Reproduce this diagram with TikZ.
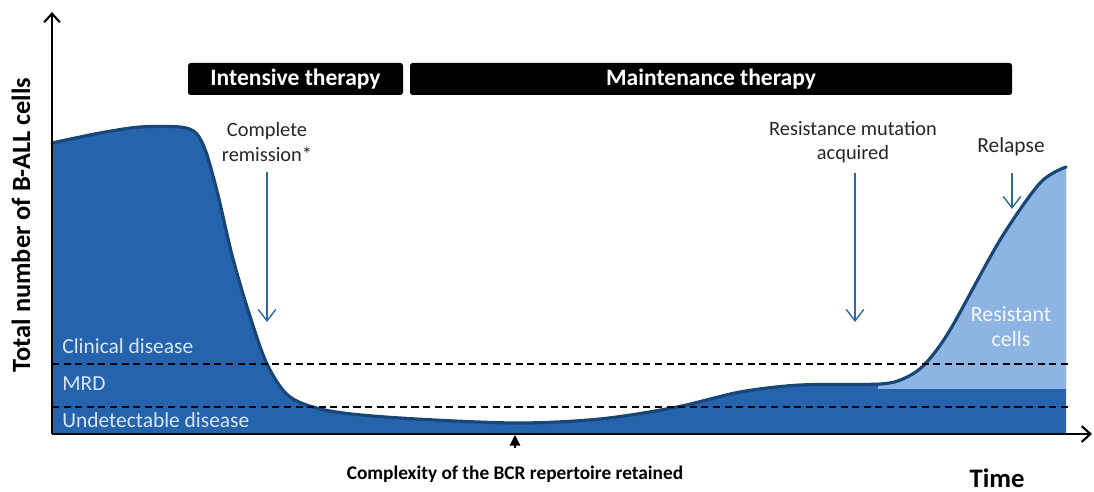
\documentclass[tikz,border=0pt]{standalone}
\usepackage{fontspec}
\setmainfont{Carlito}
\usetikzlibrary{arrows.meta}
\definecolor{dfill}{RGB}{37,99,172}
\definecolor{dline}{RGB}{25,70,120}
\definecolor{lfill}{RGB}{141,180,226}
\definecolor{arr}{RGB}{46,105,160}
\definecolor{ltxt}{RGB}{215,230,248}
\tikzset{
  boxtext/.style={font=\bfseries\fontsize{13.4}{15}\selectfont, text=white},
  annot/.style={font=\fontsize{11.6}{13.8}\selectfont, align=center, text=black!85},
  bandlabel/.style={font=\fontsize{12.2}{14}\selectfont, text=ltxt, anchor=west, inner sep=0pt},
  bluearrow/.style={draw=arr, line width=0.8pt, -{Straight Barb[length=6.5pt,width=10pt]}},
  axis/.style={draw=black, line width=1.2pt, -{Straight Barb[length=5pt,width=9pt,line width=1.2pt]}},
  thresh/.style={draw=black, line width=0.7pt, dash pattern=on 4pt off 2.6pt},
}
\begin{document}
\begin{tikzpicture}[x=0.02cm, y=-0.02cm]
\useasboundingbox (0,0) rectangle (1094,492);
% fills
\fill[dfill] (52,433) -- plot[smooth, tension=0.5] coordinates {(52,143) (100,133) (140,127) (180,127) (196,133) (206,152) (218,195) (232,255) (248,310) (267,364) (290,397) (330,411) (400,418) (515,423) (600,419) (677,407) (740,392) (800,385) (880,384) (905,378) (925,364) (950,330) (1000,240) (1040,183) (1066,167)} -- (1066,433) -- cycle;
\begin{scope}
  \clip (52,433) -- plot[smooth, tension=0.5] coordinates {(52,143) (100,133) (140,127) (180,127) (196,133) (206,152) (218,195) (232,255) (248,310) (267,364) (290,397) (330,411) (400,418) (515,423) (600,419) (677,407) (740,392) (800,385) (880,384) (905,378) (925,364) (950,330) (1000,240) (1040,183) (1066,167)} -- (1066,433) -- cycle;
  \fill[lfill] (878,100) rectangle (1066,389);
\end{scope}
% curve outline
\draw[dline, line width=1.8pt, line cap=round] plot[smooth, tension=0.5] coordinates {(52,143) (100,133) (140,127) (180,127) (196,133) (206,152) (218,195) (232,255) (248,310) (267,364) (290,397) (330,411) (400,418) (515,423) (600,419) (677,407) (740,392) (800,385) (880,384) (905,378) (925,364) (950,330) (1000,240) (1040,183) (1066,167)};
% threshold lines
\coordinate (c1) at (52,364); \coordinate (c2) at (1068,364);
\coordinate (m1) at (52,407); \coordinate (m2) at (1070,407);
\draw[thresh] (c1) -- (c2);
\draw[thresh] (m1) -- (m2);
% axes
\coordinate (O) at (52,434);
\coordinate (ytop) at (52,12);
\coordinate (xend) at (1092,434);
\draw[axis] (O) -- (ytop);
\draw[axis] (O) -- (xend);
% axis labels
\node[rotate=90, font=\bfseries\fontsize{15}{17}\selectfont] (ylab) at (21,225) {Total number of B-ALL cells};
\node[font=\bfseries\fontsize{15.2}{17}\selectfont, inner sep=0pt] (time) at (997,478) {Time};
\node[font=\bfseries\fontsize{11}{13}\selectfont] (bcr) at (515,474) {Complexity of the BCR repertoire retained};
\coordinate (bcrs) at (515,448);
\coordinate (bcrtip) at (515,435);
\draw[line width=0.7pt, -{Triangle[length=6pt,width=6pt]}] (bcrs) -- (bcrtip);
% therapy boxes
\fill[black, rounded corners=1.5pt] (188,63) rectangle (403,95);
\node[boxtext] (intt) at (295.5,79.5) {Intensive therapy};
\fill[black, rounded corners=1.5pt] (410,63) rectangle (1012,95);
\node[boxtext] (maint) at (711,79.5) {Maintenance therapy};
% annotations
\node[annot] (cr) at (267,142) {Complete\\remission*};
\node[annot] (rm) at (853,142) {Resistance mutation\\acquired};
\node[annot, font=\fontsize{12.2}{14}\selectfont] (rel) at (1011,147) {Relapse};
\coordinate (crs) at (267,172);
\coordinate (rms) at (855,173);
\coordinate (rels) at (1012,173);
\coordinate (crtip) at (267,322);
\coordinate (rmtip) at (855,322);
\coordinate (reltip) at (1012,209);
\draw[bluearrow] (crs) -- (crtip);
\draw[bluearrow] (rms) -- (rmtip);
\draw[bluearrow] (rels) -- (reltip);
% band labels
\node[bandlabel] (clin) at (62,346) {Clinical disease};
\node[bandlabel] (mrd) at (62,384) {MRD};
\node[bandlabel] (und) at (62,420) {Undetectable disease};
\node[font=\fontsize{12.4}{14.2}\selectfont, align=center, text=white!92!lfill] (res) at (1011,327) {Resistant\\cells};
\end{tikzpicture}
\end{document}
